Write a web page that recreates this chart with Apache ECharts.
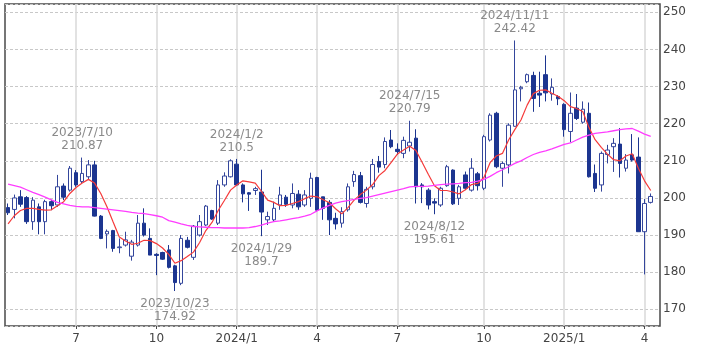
<!DOCTYPE html>
<html>
<head>
<meta charset="utf-8">
<style>
  html, body { margin: 0; padding: 0; background: #fff; }
  #chart { width: 709px; height: 354px; }
</style>
<script src="https://cdn.jsdelivr.net/npm/echarts@6/dist/echarts.min.js"></script>
</head>
<body>
<div id="chart"></div>
<script>
// weekly candles, first trading day of each week (last slot is empty)
const weeks = [
  '2023/4/17', '2023/4/24', '2023/5/1', '2023/5/8', '2023/5/15', '2023/5/22', '2023/5/29',
  '2023/6/5', '2023/6/12', '2023/6/19', '2023/6/26', '2023/7/3', '2023/7/10', '2023/7/17',
  '2023/7/24', '2023/7/31', '2023/8/7', '2023/8/14', '2023/8/21', '2023/8/28', '2023/9/5',
  '2023/9/11', '2023/9/18', '2023/9/25', '2023/10/2', '2023/10/9', '2023/10/16', '2023/10/23',
  '2023/10/30', '2023/11/6', '2023/11/13', '2023/11/20', '2023/11/27', '2023/12/4', '2023/12/11',
  '2023/12/18', '2023/12/26', '2024/1/2', '2024/1/8', '2024/1/16', '2024/1/22', '2024/1/29',
  '2024/2/5', '2024/2/12', '2024/2/20', '2024/2/26', '2024/3/4', '2024/3/11', '2024/3/18',
  '2024/3/25', '2024/4/1', '2024/4/8', '2024/4/15', '2024/4/22', '2024/4/29', '2024/5/6',
  '2024/5/13', '2024/5/20', '2024/5/28', '2024/6/3', '2024/6/10', '2024/6/17', '2024/6/24',
  '2024/7/1', '2024/7/8', '2024/7/15', '2024/7/22', '2024/7/29', '2024/8/5', '2024/8/12',
  '2024/8/19', '2024/8/26', '2024/9/3', '2024/9/9', '2024/9/16', '2024/9/23', '2024/9/30',
  '2024/10/7', '2024/10/14', '2024/10/21', '2024/10/28', '2024/11/4', '2024/11/11', '2024/11/18',
  '2024/11/25', '2024/12/2', '2024/12/9', '2024/12/16', '2024/12/23', '2024/12/30', '2025/1/6',
  '2025/1/13', '2025/1/21', '2025/1/27', '2025/2/3', '2025/2/10', '2025/2/18', '2025/2/24',
  '2025/3/3', '2025/3/10', '2025/3/17', '2025/3/24', '2025/3/31', '2025/4/7', '2025/4/14',
  '2025/4/21'
]

// open, close, low, high
const ohlc = [
  [197.4, 196.0, 195.4, 198.5], [196.9, 200.0, 194.5, 200.9], [200.3, 198.3, 197.6, 202.1],
  [200.1, 193.6, 193.0, 200.5], [193.6, 199.4, 191.4, 200.2], [197.6, 193.6, 190.2, 198.5],
  [193.6, 199.0, 190.2, 199.5], [199.0, 197.9, 196.7, 199.5], [198.1, 203.0, 197.6, 206.2],
  [203.2, 200.2, 199.4, 203.9], [202.1, 208.0, 201.7, 208.6], [206.8, 203.5, 203.0, 207.5],
  [204.4, 206.6, 203.9, 210.87], [205.7, 208.9, 204.8, 210.2], [208.9, 195.1, 195.0, 210.0],
  [195.1, 189.1, 188.9, 195.4], [190.3, 191.0, 186.4, 191.5], [191.2, 186.4, 185.5, 191.4],
  [186.6, 186.8, 185.1, 189.1], [187.3, 188.7, 186.9, 190.9], [184.3, 188.1, 183.1, 188.7],
  [187.3, 193.2, 186.9, 195.4], [193.2, 190.0, 189.6, 197.2], [189.1, 184.6, 184.6, 191.8],
  [184.8, 184.5, 179.2, 185.1], [185.3, 183.5, 183.3, 185.5], [186.0, 181.3, 181.0, 187.3],
  [181.7, 177.2, 174.92, 182.0], [177.0, 189.1, 176.5, 190.0], [188.6, 186.7, 186.4, 189.5],
  [184.0, 192.4, 183.3, 192.7], [190.0, 193.6, 189.6, 195.4], [192.7, 197.8, 192.4, 198.1],
  [196.6, 194.3, 194.1, 196.8], [193.2, 203.5, 192.7, 204.8], [203.5, 205.9, 203.0, 206.9],
  [205.7, 210.0, 205.5, 210.4], [209.1, 203.5, 203.2, 210.5], [203.5, 201.1, 198.8, 203.9],
  [201.4, 201.0, 196.5, 201.6], [202.0, 202.5, 200.8, 203.0], [201.6, 196.2, 189.7, 207.6],
  [194.1, 195.0, 192.7, 196.3], [194.1, 197.2, 193.6, 199.0], [198.1, 200.8, 196.8, 203.0],
  [200.2, 198.3, 197.6, 200.8], [198.1, 201.2, 197.2, 203.9], [201.0, 197.6, 196.8, 202.1],
  [198.1, 200.8, 197.6, 202.1], [199.9, 205.3, 197.6, 206.8], [205.5, 196.7, 196.3, 205.7],
  [200.3, 197.2, 194.1, 200.3], [198.8, 194.1, 190.0, 199.4], [194.5, 193.0, 191.5, 196.0],
  [193.2, 196.3, 192.0, 197.5], [196.8, 203.0, 196.3, 203.9], [204.4, 206.3, 203.0, 207.3],
  [206.0, 198.8, 198.5, 207.0], [198.5, 202.3, 197.4, 203.0], [203.0, 209.0, 202.3, 210.5],
  [209.8, 208.3, 206.8, 211.3], [209.0, 215.2, 208.0, 216.3], [215.6, 213.8, 213.4, 218.3],
  [213.1, 212.5, 211.6, 214.7], [212.0, 215.5, 210.7, 216.5], [214.0, 215.0, 212.5, 220.79],
  [216.1, 203.0, 198.5, 218.5], [203.5, 203.0, 198.6, 204.0], [202.1, 198.1, 196.9, 202.6],
  [199.0, 198.6, 195.61, 199.9], [198.1, 202.6, 197.6, 203.0], [203.3, 208.4, 203.0, 208.9],
  [207.5, 198.4, 198.1, 207.7], [199.9, 203.0, 198.1, 203.5], [206.2, 202.6, 202.1, 207.1],
  [202.1, 208.0, 201.7, 210.7], [206.5, 203.3, 202.0, 207.0], [202.6, 216.5, 202.1, 217.0],
  [215.6, 222.3, 215.2, 222.8], [222.8, 208.4, 208.0, 223.2], [208.0, 209.3, 203.0, 209.8],
  [208.9, 219.6, 206.6, 220.1], [219.3, 229.1, 219.2, 242.42], [229.4, 229.8, 226.0, 230.2],
  [231.3, 233.2, 230.9, 233.5], [233.0, 226.8, 223.2, 234.0], [228.2, 227.7, 224.5, 234.0],
  [233.2, 228.3, 226.0, 238.4], [228.0, 229.8, 226.2, 232.2], [227.3, 226.7, 225.0, 227.7],
  [225.2, 218.4, 216.5, 225.5], [217.9, 222.8, 215.0, 228.4], [224.2, 221.4, 221.0, 228.0],
  [220.4, 223.9, 220.0, 226.0], [222.8, 205.7, 205.5, 225.7], [206.6, 202.6, 201.6, 209.0],
  [203.5, 212.0, 201.7, 212.5], [211.7, 212.9, 209.3, 214.3], [213.8, 214.7, 207.0, 216.1],
  [214.5, 209.3, 205.5, 218.8], [208.0, 210.2, 207.1, 211.8], [211.6, 210.2, 209.8, 217.2],
  [211.0, 190.9, 190.9, 216.3], [190.9, 198.5, 179.4, 199.7], [198.8, 200.4, 198.5, 201.2],
  '-'
]

// 5-week moving average
const ma5 = [
  193.0, 195.2, 196.6, 197.2, 197.2, 196.9, 196.7, 196.8, 197.9, 199.0, 201.2, 202.8, 204.0,
  205.0, 204.0, 201.2, 197.6, 193.5, 189.5, 188.4, 187.5, 187.8, 188.6, 188.5, 187.7, 186.5,
  184.8, 182.4, 183.1, 184.2, 185.4, 188.0, 191.2, 193.4, 196.6, 199.3, 202.1, 203.5, 204.6,
  204.3, 204.0, 201.8, 199.4, 198.8, 197.9, 198.0, 198.5, 199.0, 199.8, 200.5, 200.3, 199.5,
  198.7, 197.1, 195.7, 197.4, 199.4, 200.9, 202.1, 203.6, 206.0, 207.4, 209.6, 211.8, 212.9,
  213.9, 212.8, 209.6, 206.4, 203.3, 202.0, 202.0, 201.6, 201.1, 202.2, 203.6, 203.9, 205.5,
  209.5, 211.3, 212.0, 215.6, 218.4, 221.0, 225.0, 228.1, 229.0, 229.1, 228.2, 227.4, 226.2,
  224.6, 224.1, 223.3, 219.0, 215.7, 213.6, 211.8, 210.3, 210.0, 211.3, 211.9, 208.0, 204.6,
  202.0, '-'
]

// 26-week moving average
const ma26 = [
  203.7, 203.3, 202.9, 202.2, 201.5, 200.9, 200.2, 199.5, 198.8, 198.4, 198.0, 197.7, 197.6,
  197.6, 197.4, 197.2, 197.0, 196.8, 196.6, 196.4, 196.1, 195.9, 195.8, 195.5, 195.2, 194.8,
  193.9, 193.5, 193.0, 192.6, 192.3, 192.2, 192.1, 192.0, 192.0, 191.9, 191.9, 191.9, 191.9,
  192.0, 192.3, 192.7, 193.2, 193.6, 193.8, 194.1, 194.4, 194.7, 195.1, 195.6, 196.5, 197.3,
  198.0, 198.6, 199.0, 199.3, 199.6, 199.9, 200.1, 200.5, 200.9, 201.3, 201.7, 202.1, 202.5,
  203.0, 203.1, 203.1, 203.2, 203.4, 203.6, 203.7, 203.8, 203.9, 204.1, 204.2, 204.5, 205.0,
  205.8, 206.8, 207.6, 208.4, 209.3, 210.0, 210.9, 211.7, 212.3, 212.7, 213.2, 213.8, 214.4,
  214.8, 215.6, 216.4, 216.9, 217.4, 217.6, 217.8, 218.1, 218.4, 218.6, 218.7, 218.0, 217.2,
  216.6, '-'
]

const tickWeeks = ['2023/7/3', '2023/10/2', '2024/1/2', '2024/4/1', '2024/7/1', '2024/10/7', '2025/1/6', '2025/4/7']
const tickLabels = ['7', '10', '2024/1', '4', '7', '10', '2025/1', '4']

const highWeeks = ['2023/7/10', '2024/1/2', '2024/7/15', '2024/11/11']
const highValues = [210.87, 210.5, 220.79, 242.42]
const lowWeeks = ['2023/10/23', '2024/1/29', '2024/8/12']
const lowValues = [174.92, 189.7, 195.61]

const isTick = (index, value) => tickWeeks.indexOf(value) >= 0
const font = '"DejaVu Sans", Verdana, sans-serif'

const noteLabel = (pos, dist) => ({
  show: true,
  position: pos,
  distance: dist,
  color: '#8a8a8a',
  fontSize: 12,
  lineHeight: 13,
  fontFamily: font,
  formatter: p => p.data.note
})

const notes = highWeeks.map((w, i) => ({
  coord: [w, highValues[i]], note: w + '\n' + highValues[i], label: noteLabel('top', 5)
})).concat(lowWeeks.map((w, i) => ({
  coord: [w, lowValues[i]], note: w + '\n' + lowValues[i], label: noteLabel('bottom', 6)
})))

const chart = echarts.init(document.getElementById('chart'))
chart.setOption({
  animation: false,
  backgroundColor: '#fff',
  grid: {
    left: 5,
    right: 49,
    top: 4,
    bottom: 28,
    show: true,
    borderColor: '#4a4a4a',
    borderWidth: 1.5
  },
  xAxis: {
    type: 'category',
    data: weeks,
    boundaryGap: true,
    axisLine: { show: false },
    axisTick: {
      show: true,
      interval: isTick,
      alignWithLabel: true,
      length: 3,
      lineStyle: { color: '#4a4a4a' }
    },
    axisLabel: {
      interval: isTick,
      formatter: v => tickLabels[tickWeeks.indexOf(v)] || '',
      color: '#444',
      fontSize: 12,
      fontFamily: font,
      margin: 7
    },
    splitLine: {
      show: true,
      interval: isTick,
      alignWithLabel: true,
      lineStyle: { color: '#d9d9d9', width: 1.5 }
    }
  },
  yAxis: {
    type: 'value',
    position: 'right',
    min: 165.5,
    max: 252.24,
    splitNumber: 8,
    axisLine: { show: false },
    axisTick: { show: false },
    axisLabel: {
      color: '#444',
      fontSize: 12,
      fontFamily: font,
      margin: 3,
      showMinLabel: false,
      showMaxLabel: false,
      formatter: v => Math.abs(v - Math.round(v / 10) * 10) < 1e-6 ? String(Math.round(v)) : ''
    },
    splitLine: {
      lineStyle: { color: '#c8c8c8', type: [3, 2] }
    }
  },
  series: [
    {
      name: 'price',
      type: 'candlestick',
      data: ohlc,
      barWidth: 4,
      itemStyle: {
        color: '#ffffff',
        color0: '#1c3590',
        borderColor: '#34469c',
        borderColor0: '#1c3590',
        borderWidth: 1
      },
      markPoint: {
        symbol: 'circle',
        symbolSize: 0,
        itemStyle: { color: 'rgba(0,0,0,0)' },
        data: notes
      }
    },
    {
      name: 'MA5',
      type: 'line',
      data: ma5,
      symbol: 'none',
      lineStyle: { color: '#f53a3a', width: 1.2 }
    },
    {
      name: 'MA26',
      type: 'line',
      data: ma26,
      symbol: 'none',
      lineStyle: { color: '#ff3cff', width: 1.3 }
    }
  ]
})
</script>
</body>
</html>
